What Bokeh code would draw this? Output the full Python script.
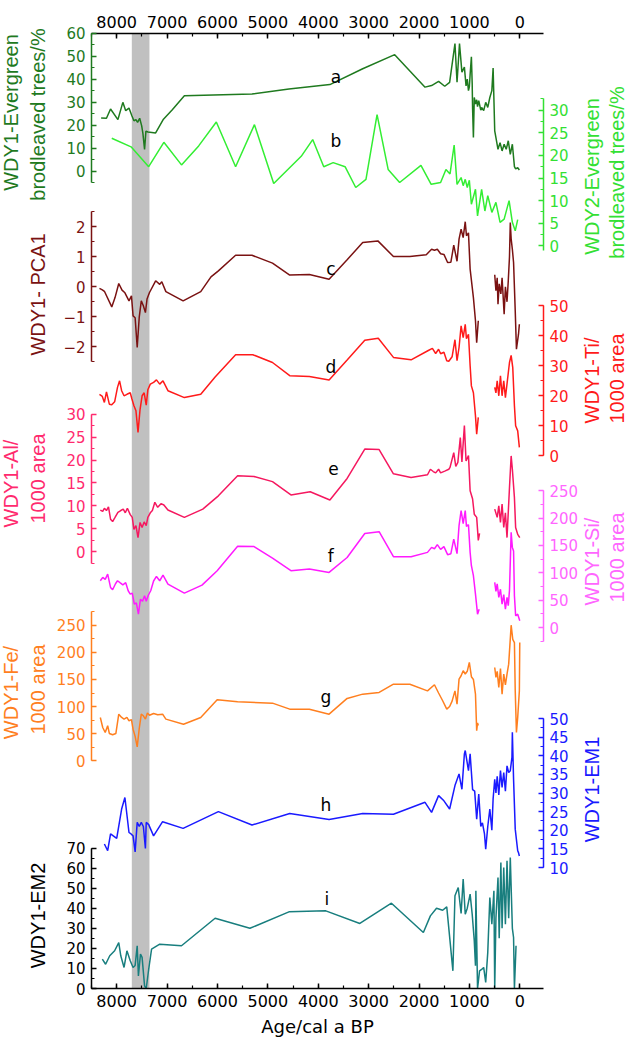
import math
from bokeh.plotting import figure
from bokeh.models import Range1d, LinearAxis, SingleIntervalTicker, BoxAnnotation, Label
from bokeh.embed import file_html
from bokeh.resources import INLINE

NaN = float("nan")

# ---------------- data (age in cal a BP, value) ----------------
band = [7700, 7350]

a_age = [8309, 8203, 8122, 7976, 7878, 7821, 7756, 7699, 7658, 7618, 7585, 7544, 7504, 7480, 7447, 7420, 7380, 7227,
         7072, 6901, 6657, 5315, 4582, 3769, 3118, 2483, 1881, 1751, 1612, 1490, 1393, 1287, 1246, 1197, 1149, 1100,
         1067, 1043, 1019, 1002, 986, 961, 945, 937, 921, 904, 880, 856, 839, 815, 775, 758, 717, 677, 636, 595, 555,
         530, 498, 474, 433, 392, 352, 311, 270, 229, 189, 148, 107, 83, 42, 9]
a_val = [23.1, 23.0, 27.0, 22.4, 29.9, 26.3, 27.4, 24.1, 21.9, 22.4, 21.2, 23.0, 19.7, 16.4, 9.5, 17.4, 17.0, 16.6,
         22.6, 26.6, 32.8, 33.5, 35.7, 37.6, 44.5, 50.6, 36.5, 37.2, 39.0, 36.9, 38.6, 55.4, 38.6, 55.4, 43.0, 45.2,
         37.0, 40.0, 35.0, 36.5, 42.0, 49.7, 38.0, 27.0, 14.6, 32.0, 29.2, 31.0, 28.0, 30.6, 26.5, 27.7, 26.3, 29.9,
         27.7, 32.0, 35.0, 44.8, 17.5, 14.6, 9.5, 12.4, 8.8, 11.7, 9.5, 13.2, 7.3, 11.7, 2.0, 1.0, 1.5, 0.5]

b_age = [8098, 7715, 7365, 7064, 6714, 6373, 6023, 5640, 5266, 4884, 4338, 4110, 3891, 3704, 3468, 3256, 3053, 2833,
         2613, 2385, 1962, 1759, 1572, 1466, 1385, 1303, 1246, 1165, 1124, 1083, 1043, 1002, 961, 880, 839, 758, 693,
         636, 555, 474, 392, 311, 213, 148, 91, 42]
b_val = [23.8, 21.9, 17.5, 22.9, 17.9, 22.1, 27.4, 17.5, 26.8, 13.8, 19.8, 23.5, 17.5, 18.4, 17.5, 12.9, 14.7, 29.0,
         16.9, 14.0, 17.8, 13.6, 14.0, 16.9, 15.9, 22.3, 13.6, 15.1, 13.3, 14.7, 12.9, 14.5, 9.2, 12.5, 6.6, 12.5, 7.7,
         11.1, 7.4, 9.6, 5.2, 5.9, 10.0, 5.2, 3.3, 5.8]

c_age = [8342, 8285, 8244, 8098, 8033, 7959, 7894, 7837, 7756, 7707, 7675, 7634, 7593, 7552, 7512, 7471, 7430, 7398,
         7349, 7227, 7146, 7105, 7024, 6682, 6332, 6129, 5982, 5640, 5315, 4908, 4566, 4176, 3785, 3427, 3118, 2817,
         2508, 2182, 1857, 1751, 1694, 1637, 1572, 1506, 1433, 1368, 1311, 1246, 1206, 1165, 1124, 1083, 1059, 1019,
         986, 921, 880, 856, 824, NaN, 498, 474, 449, 433, 409, 376, 352, 311, 286, 254, 229, 205, 189, 172, 148, 124,
         91, 67, 26, 9]
c_val = [-0.05, -0.10, -0.15, -0.67, -0.36, 0.11, -0.11, -0.20, -0.47, -0.30, -0.97, -1.03, -2.02, -1.00, -0.47,
         -0.63, -0.86, -0.41, -0.19, 0.20, 0.08, 0.17, -0.16, -0.47, -0.16, 0.33, 0.53, 1.05, 1.05, 0.79, 0.39, 0.41,
         0.25, 0.90, 1.48, 1.53, 1.01, 1.01, 1.07, 1.25, 1.22, 1.25, 1.10, 1.08, 0.81, 0.82, 1.39, 0.85, 1.59, 1.92,
         1.64, 2.17, 1.70, 1.80, 0.59, -0.36, -1.13, -1.86, -1.13, NaN, 0.40, -0.13, 0.30, -0.58, 0.10, -0.24, 0.30,
         -0.91, 0.00, -0.50, 0.20, 1.00, 2.14, 1.60, 1.25, 0.81, -0.80, -2.08, -1.58, -1.25]

d_age = [8342, 8285, 8244, 8203, 8146, 8098, 8041, 7984, 7943, 7902, 7854, 7797, 7731, 7699, 7658, 7618, 7577, 7536,
         7496, 7455, 7414, 7382, 7333, 7268, 7211, 7146, 7081, 6983, 6657, 6332, 6047, 5640, 5299, 4908, 4566, 4176,
         3785, 3427, 3077, 2809, 2508, 2158, 1816, 1735, 1670, 1612, 1572, 1506, 1450, 1409, 1344, 1287, 1246, 1206,
         1165, 1124, 1083, 1059, 1019, 986, 961, 921, 880, 856, 824, NaN, 498, 474, 449, 417, 384, 352, 319, 286, 254,
         205, 172, 140, 107, 83, 42, 9]
d_val = [20.5, 19.8, 17.8, 21.3, 17.2, 17.0, 18.0, 22.8, 25.0, 21.7, 20.0, 20.5, 21.0, 19.0, 16.7, 15.0, 7.8, 15.5,
         20.0, 21.0, 16.9, 22.0, 23.9, 24.5, 25.3, 23.9, 25.0, 21.7, 19.4, 20.5, 26.3, 33.7, 33.7, 31.1, 26.7, 26.4,
         25.3, 31.9, 38.5, 39.2, 32.8, 32.0, 35.1, 35.8, 34.1, 35.5, 34.0, 34.5, 31.7, 31.5, 33.0, 38.7, 31.7, 36.1,
         43.3, 39.4, 43.8, 39.0, 40.5, 30.0, 23.3, 21.0, 13.3, 7.2, 12.8, NaN, 22.8, 21.0, 25.0, 20.0, 26.7, 20.0, 25.0,
         19.4, 24.0, 31.1, 33.5, 29.4, 16.7, 10.0, 8.3, 2.8]

e_age = [8325, 8277, 8244, 8203, 8163, 8122, 8081, 8033, 7976, 7919, 7870, 7829, 7788, 7731, 7691, 7658, 7618, 7577,
         7536, 7496, 7455, 7414, 7382, 7333, 7292, 7243, 7186, 7121, 7064, 6983, 6657, 6291, 5982, 5600, 5274, 4908,
         4542, 4160, 3769, 3427, 3077, 2792, 2508, 2158, 1832, 1775, 1718, 1670, 1612, 1572, 1490, 1409, 1385, 1311,
         1271, 1230, 1181, 1149, 1100, 1067, 1019, 986, 937, 904, 856, 824, 799, NaN, 498, 449, 417, 384, 352, 319, 286,
         254, 205, 172, 148, 107, 83, 42, 1]
e_val = [9.1, 8.8, 9.5, 9.0, 9.8, 7.1, 6.6, 7.5, 8.6, 9.0, 9.3, 8.5, 9.5, 8.1, 7.5, 4.9, 5.7, 3.1, 6.4, 5.3, 6.5, 5.7,
         7.5, 8.5, 9.0, 10.8, 9.7, 10.5, 10.2, 9.1, 7.5, 9.3, 12.2, 16.6, 16.4, 15.3, 12.4, 13.1, 11.3, 16.0, 22.4,
         22.3, 17.0, 16.2, 16.8, 18.0, 17.5, 17.2, 18.0, 17.2, 17.6, 18.0, 18.4, 21.6, 18.6, 19.5, 24.9, 19.6, 27.5,
         19.8, 21.0, 13.3, 11.5, 8.2, 7.5, 2.5, 4.0, NaN, 9.3, 7.5, 10.0, 6.4, 10.4, 5.3, 8.5, 3.1, 14.0, 20.9, 18.0,
         11.8, 5.3, 3.8, 3.1]

f_age = [8325, 8277, 8228, 8179, 8122, 8081, 8024, 7984, 7935, 7878, 7821, 7772, 7731, 7691, 7650, 7610, 7569, 7528,
         7487, 7447, 7414, 7373, 7325, 7268, 7211, 7146, 7081, 6983, 6657, 6307, 6006, 5600, 5274, 4908, 4542, 4176,
         3785, 3427, 3077, 2792, 2508, 2158, 1832, 1751, 1694, 1637, 1572, 1506, 1433, 1368, 1311, 1246, 1206, 1165,
         1124, 1083, 1059, 1019, 986, 961, 921, 880, 839, 807, NaN, 498, 474, 449, 417, 384, 352, 319, 286, 254, 229,
         205, 172, 148, 124, 107, 83, 42, 1]
f_val = [85.5, 91.6, 88.0, 97.6, 73.3, 69.0, 80.0, 85.5, 82.0, 78.0, 82.0, 67.2, 61.0, 63.0, 42.7, 45.0, 24.4, 51.8,
         48.0, 58.0, 48.0, 59.0, 67.2, 85.0, 93.4, 85.5, 95.8, 79.3, 62.8, 77.5, 103.8, 148.4, 148.0, 127.0, 103.8,
         106.8, 100.7, 128.0, 172.0, 175.3, 129.5, 129.5, 137.4, 146.5, 144.0, 151.5, 143.0, 148.0, 133.2, 135.0, 161.7,
         135.0, 186.3, 213.7, 190.0, 213.7, 185.0, 188.0, 137.4, 113.0, 94.7, 61.0, 24.4, 33.5, NaN, 82.4, 66.0, 80.0,
         55.0, 70.0, 42.7, 60.0, 33.5, 55.0, 40.0, 68.0, 174.0, 146.5, 140.0, 58.0, 21.4, 24.4, 12.2]

g_age = [8325, 8277, 8228, 8179, 8146, 8081, 8016, 7959, 7902, 7854, 7797, 7756, 7707, 7675, 7634, 7593, 7552, 7512,
         7471, 7430, 7390, 7349, 7268, 7186, 7089, 7024, 6674, 6332, 6006, 5600, 4908, 4566, 4176, 3785, 3427, 3118,
         2792, 2508, 2182, 1832, 1694, 1612, 1531, 1450, 1393, 1344, 1287, 1246, 1206, 1165, 1124, 1083, 1043, 1002,
         961, 921, 880, 856, 839, 824, NaN, 498, 474, 449, 417, 384, 352, 319, 286, 254, 221, 172, 140, 107, 91, 67,
         42, 9, 1]
g_val = [79.9, 61.4, 52.2, 64.6, 50.4, 48.0, 50.4, 86.0, 80.0, 76.8, 80.0, 73.8, 76.0, 58.3, 45.0, 25.8, 60.0, 86.0,
         83.0, 77.0, 88.0, 84.0, 87.3, 85.0, 86.0, 76.8, 67.5, 79.9, 112.5, 108.9, 106.3, 95.2, 95.0, 86.0, 115.0,
         122.9, 126.0, 141.3, 141.0, 129.0, 140.2, 125.0, 110.7, 95.2, 100.0, 110.0, 129.0, 104.4, 150.6, 156.8, 166.0,
         160.0, 165.0, 181.4, 155.0, 150.0, 122.9, 55.4, 70.0, 65.0, NaN, 172.0, 153.7, 165.0, 135.2, 170.0, 122.9,
         160.0, 140.0, 160.0, 178.2, 250.0, 224.0, 218.0, 129.0, 52.2, 79.9, 129.0, 218.0]

h_age = [8244, 8179, 8122, 8000, 7902, 7837, 7756, 7715, 7675, 7634, 7593, 7552, 7512, 7471, 7430, 7414, 7365, 7268,
         7089, 6682, 5982, 5315, 4566, 3785, 3118, 2508, 1881, 1751, 1612, 1506, 1393, 1287, 1206, 1149, 1100, 1083,
         1019, 986, 937, 896, 856, 815, 775, 742, 701, 677, 636, 595, 555, 530, 498, 474, 449, 417, 384, 352, 319, 286,
         254, 221, 189, 156, 148, 124, 91, 42, 26, 9]
h_val = [16.3, 14.5, 19.0, 17.8, 25.7, 28.8, 19.4, 19.0, 18.5, 14.2, 22.1, 21.0, 22.1, 21.0, 15.1, 22.1, 21.5, 18.5,
         22.3, 20.5, 25.0, 21.4, 24.5, 22.9, 24.5, 24.3, 27.5, 24.8, 29.3, 27.9, 25.7, 32.0, 35.1, 31.0, 40.5, 41.4,
         36.0, 40.5, 30.9, 30.5, 23.0, 29.7, 21.0, 22.0, 19.0, 14.9, 21.0, 25.7, 20.0, 28.4, 33.7, 30.0, 34.5, 29.5,
         36.0, 31.5, 35.5, 30.5, 37.3, 35.5, 36.0, 39.6, 46.3, 33.7, 20.3, 14.5, 14.0, 13.1]

i_age = [8285, 8220, 8138, 8041, 7959, 7919, 7854, 7797, 7731, 7675, 7634, 7593, 7569, 7528, 7496, 7447, 7414, 7365,
         7308, 7146, 6714, 6047, 5356, 4582, 3850, 3175, 2548, 1914, 1775, 1653, 1531, 1450, 1328, 1287, 1222, 1165,
         1124, 1083, 1043, 986, 945, 904, 880, 872, 839, 799, 758, 717, 677, 636, 595, 555, 514, 498, 474, 433, 409,
         376, 352, 319, 286, 254, 221, 189, 148, 124, 107, 75]
i_val = [14.6, 12.1, 16.3, 18.8, 22.9, 16.3, 10.5, 18.8, 13.8, 10.5, 11.5, 21.3, 6.3, 17.1, 15.5, 1.3, 0.0, 9.6, 19.6,
         22.1, 21.3, 35.0, 30.0, 38.2, 38.7, 32.4, 42.5, 27.9, 36.2, 40.0, 39.0, 40.7, 8.8, 46.2, 50.3, 37.4, 54.5,
         37.0, 40.0, 47.0, 37.0, 23.8, 11.3, 48.7, 0.0, 8.8, 9.5, 10.5, 3.0, 18.0, 45.3, 32.0, 48.7, 0.0, 35.0, 55.3,
         25.0, 62.8, 30.0, 60.3, 32.0, 63.6, 35.0, 65.3, 30.0, 25.4, 0.0, 21.3]

x_ticks_major = 1000
x_title = "Age/cal a BP"

# ---------------- layout / style ----------------
FONT = "DejaVu Sans"
TFONT = "Liberation Sans"
W, H = 628, 1040
CT, CL = 8.0, 8.0               # canvas top-left on the page
PT, PB = 41.0, 996.0            # axis frame top / bottom on the page
PL, PR = 99.0, 551.0            # axis frame left / right on the page
X0, X1 = 8500, -470             # ages at the left / right axes


def age_at(page_x):
    return X0 + (page_x - PL) * (X1 - X0) / (PR - PL)


def base_at(page_y):
    return (CT + H) - page_y


# name: (value, page_y of that value, px per unit)
CAL = {
    "a": (0, 178.7, 2.303),
    "b": (0, 253.3, 4.52),
    "c": (0, 294.3, 30.0),
    "d": (0, 463.3, 3.0),
    "e": (0, 559.3, 4.587),
    "f": (0, 635.0, 0.5468),
    "g": (0, 768.3, 0.5424),
    "h": (10, 875.0, 3.725),
    "i": (0, 996.0, 2.007),
}


def val_at(name, page_y):
    v0, p0, s = CAL[name]
    return v0 + (p0 - page_y) / s


p = figure(width=W, height=H, output_backend="svg", toolbar_location=None, title=None,
           x_range=Range1d(age_at(CL), age_at(CL + W)), y_range=Range1d(0, H),
           x_axis_location=None, y_axis_location=None, min_border=0)
p.grid.visible = False
p.outline_line_color = None
p.background_fill_color = "white"
p.border_fill_color = "white"

for name in CAL:
    p.extra_y_ranges[name] = Range1d(val_at(name, CT + H), val_at(name, CT))

p.add_layout(BoxAnnotation(left=band[0], right=band[1], top=base_at(PT), bottom=base_at(PB),
                           fill_color="#c0c0c0", fill_alpha=1.0, line_color=None, level="underlay"))

# x axes (top and bottom)
for side, loc in (("above", base_at(PT)), ("below", base_at(PB))):
    ax = LinearAxis(ticker=SingleIntervalTicker(interval=x_ticks_major, num_minor_ticks=2),
                    fixed_location=loc, bounds=(X1, X0),
                    axis_line_color="black", axis_line_width=1.5,
                    major_tick_line_color="black", minor_tick_line_color="black",
                    major_tick_line_width=1.5, minor_tick_line_width=1.2,
                    major_tick_in=5, major_tick_out=0, minor_tick_in=3, minor_tick_out=0,
                    major_label_text_font=FONT, major_label_text_font_size="16px",
                    major_label_text_color="black",
                    major_label_standoff=6)
    p.add_layout(ax, side)

p.add_layout(Label(x=age_at((PL + PR) / 2), y=base_at(1034), text=x_title,
                   text_align="center", text_baseline="middle",
                   text_font=FONT, text_font_size="18px", text_color="black"))

series = [
    # name, ages, values, line color, axis color, side, bounds, interval
    ("a", a_age, a_val, "#1f7a1f", "#1f7a1f", "left", (-5, 60), 10),
    ("b", b_age, b_val, "#33ee33", "#33e033", "right", (-1, 32.5), 5),
    ("c", c_age, c_val, "#7a1212", "#7a1212", "left", (-2.5, 2.5), 1),
    ("d", d_age, d_val, "#ff1a1a", "#ff1a1a", "right", (0, 50), 10),
    ("e", e_age, e_val, "#f5185f", "#ff2a6e", "left", (-2.5, 30), 5),
    ("f", f_age, f_val, "#ff1aff", "#ff66ff", "right", (-25, 250), 50),
    ("g", g_age, g_val, "#ff7f1f", "#ff7f1f", "left", (0, 275), 50),
    ("h", h_age, h_val, "#1a1aff", "#1a1aff", "right", (10, 50), 5),
    ("i", i_age, i_val, "#187e7e", "#000000", "left", (0, 70), 10),
]

for name, ages, vals, lc, ac, side, bounds, interval in series:
    p.line(ages, vals, y_range_name=name, line_color=lc, line_width=1.5)
    ax = LinearAxis(y_range_name=name, bounds=bounds,
                    ticker=SingleIntervalTicker(interval=interval, num_minor_ticks=2),
                    fixed_location=X0 if side == "left" else X1,
                    axis_line_color=ac, axis_line_width=1.5,
                    major_tick_line_color=ac, minor_tick_line_color=ac,
                    major_tick_line_width=1.5, minor_tick_line_width=1.2,
                    major_tick_in=5, major_tick_out=0, minor_tick_in=3, minor_tick_out=0,
                    major_label_text_font=FONT, major_label_text_font_size="15px",
                    major_label_text_color=ac, major_label_standoff=6)
    p.add_layout(ax, side)

# axis titles: (series, text, page x of column, page y centre, colour)
titles = [
    ("a", "WDY1-Evergreen", 18, 120, "#1f7a1f"),
    ("a", "brodleaved trees/%", 45, 122, "#1f7a1f"),
    ("b", "WDY2-Evergreen", 599, 184, "#33e033"),
    ("b", "brodleaved trees/%", 624, 180, "#33e033"),
    ("c", "WDY1- PCA1", 45, 302, "#7a1212"),
    ("d", "WDY1-Ti/", 599, 388, "#ff1a1a"),
    ("d", "1000 area", 624, 386, "#ff1a1a"),
    ("e", "WDY1-Al/", 18, 491, "#ff2a6e"),
    ("e", "1000 area", 45, 486, "#ff2a6e"),
    ("f", "WDY1-Si/", 599, 569, "#ff66ff"),
    ("f", "1000 area", 624, 565, "#ff66ff"),
    ("g", "WDY1-Fe/", 18, 700, "#ff7f1f"),
    ("g", "1000 area", 45, 697, "#ff7f1f"),
    ("h", "WDY1-EM1", 599, 797, "#1a1aff"),
    ("i", "WDY1-EM2", 45, 923, "#000000"),
]
for name, text, px, py, col in titles:
    p.add_layout(Label(x=age_at(px), y=val_at(name, py), y_range_name=name, text=text,
                       angle=math.pi / 2, text_align="center", text_baseline="middle",
                       text_font=TFONT, text_font_size="20px", text_color=col))

# panel letters: (series, letter, age, page y)
letters = [("a", "a", 3650, 84), ("b", "b", 3650, 148), ("c", "c", 3750, 276), ("d", "d", 3750, 374),
           ("e", "e", 3700, 476), ("f", "f", 3750, 563), ("g", "g", 3850, 704), ("h", "h", 3850, 812),
           ("i", "i", 3830, 906)]
for name, t, age, py in letters:
    p.add_layout(Label(x=age, y=val_at(name, py), y_range_name=name, text=t,
                       text_align="center", text_baseline="middle",
                       text_font=FONT, text_font_size="17px", text_color="black"))

open("out.html", "w").write(file_html(p, INLINE))
